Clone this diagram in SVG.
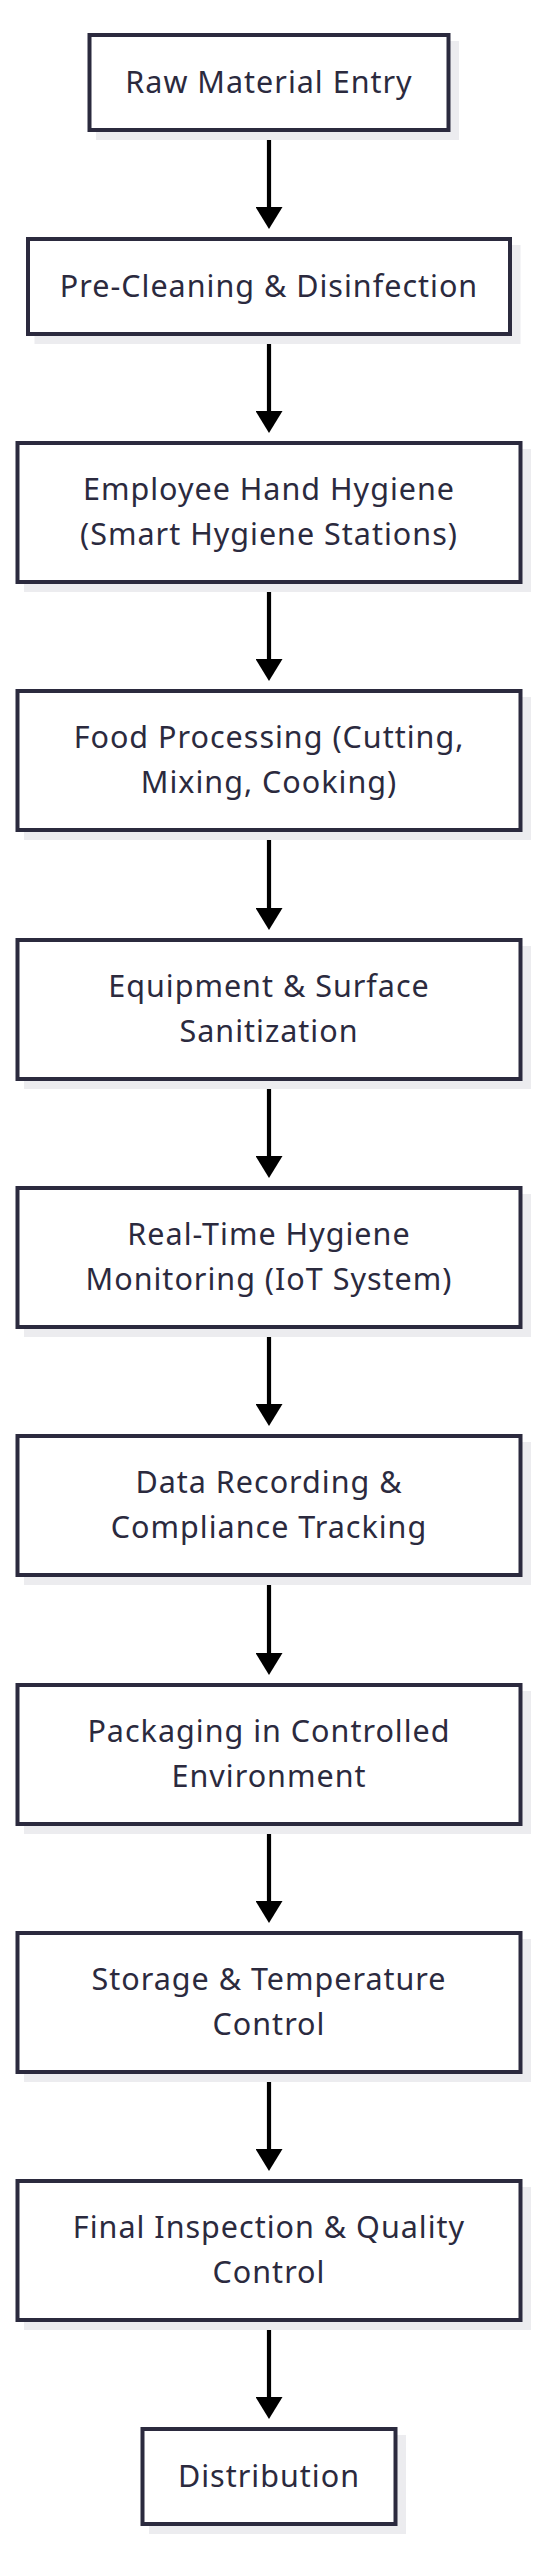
<svg xmlns="http://www.w3.org/2000/svg" width="538" height="2560" viewBox="0 0 538 2560">
<style>
.bg{fill:#ffffff}
.sh{fill:#ececef}
.bx{fill:#ffffff;stroke:#2b2a3e;stroke-width:4}
.t{font-family:"Noto Sans","Open Sans",sans-serif;font-size:30.5px;fill:#2b2a3e;text-anchor:middle;letter-spacing:1px}
.c{stroke:#000000;stroke-width:4.2;fill:none}
</style>
<defs>
<marker id="ah" markerUnits="userSpaceOnUse" viewBox="0 0 22 27" markerWidth="22" markerHeight="27" refX="1" refY="13.5" orient="auto">
<path d="M0,0 L22,13.5 L0,27 Z" fill="#000000"/>
</marker>
</defs>
<rect class="bg" x="0" y="0" width="538" height="2560"/>

<g id="connectors">
<line class="c" x1="269" y1="132" x2="269" y2="208" marker-end="url(#ah)"/>
<line class="c" x1="269" y1="336" x2="269" y2="412" marker-end="url(#ah)"/>
<line class="c" x1="269" y1="584" x2="269" y2="660" marker-end="url(#ah)"/>
<line class="c" x1="269" y1="832" x2="269" y2="909" marker-end="url(#ah)"/>
<line class="c" x1="269" y1="1081" x2="269" y2="1157" marker-end="url(#ah)"/>
<line class="c" x1="269" y1="1329" x2="269" y2="1405" marker-end="url(#ah)"/>
<line class="c" x1="269" y1="1577" x2="269" y2="1654" marker-end="url(#ah)"/>
<line class="c" x1="269" y1="1826" x2="269" y2="1902" marker-end="url(#ah)"/>
<line class="c" x1="269" y1="2074" x2="269" y2="2150" marker-end="url(#ah)"/>
<line class="c" x1="269" y1="2322" x2="269" y2="2398" marker-end="url(#ah)"/>
</g>

<g id="raw-material-entry">
<rect class="sh" x="96" y="41" width="363" height="99"/>
<rect class="bx" x="89.5" y="35" width="359" height="95"/>
<text class="t" x="269" y="92.5">Raw Material Entry</text>
</g>

<g id="pre-cleaning">
<rect class="sh" x="34.5" y="245" width="486" height="99"/>
<rect class="bx" x="28" y="239" width="482" height="95"/>
<text class="t" x="269" y="296.5">Pre-Cleaning &amp; Disinfection</text>
</g>

<g id="hand-hygiene">
<rect class="sh" x="24" y="449" width="507" height="143"/>
<rect class="bx" x="17.5" y="443" width="503" height="139"/>
<text class="t" x="269" y="500">Employee Hand Hygiene</text>
<text class="t" x="269" y="545">(Smart Hygiene Stations)</text>
</g>

<g id="food-processing">
<rect class="sh" x="24" y="697" width="507" height="143"/>
<rect class="bx" x="17.5" y="691" width="503" height="139"/>
<text class="t" x="269" y="748">Food Processing (Cutting,</text>
<text class="t" x="269" y="793">Mixing, Cooking)</text>
</g>

<g id="equipment-sanitization">
<rect class="sh" x="24" y="946" width="507" height="143"/>
<rect class="bx" x="17.5" y="940" width="503" height="139"/>
<text class="t" x="269" y="997">Equipment &amp; Surface</text>
<text class="t" x="269" y="1042">Sanitization</text>
</g>

<g id="realtime-monitoring">
<rect class="sh" x="24" y="1194" width="507" height="143"/>
<rect class="bx" x="17.5" y="1188" width="503" height="139"/>
<text class="t" x="269" y="1245">Real-Time Hygiene</text>
<text class="t" x="269" y="1290">Monitoring (IoT System)</text>
</g>

<g id="data-recording">
<rect class="sh" x="24" y="1442" width="507" height="143"/>
<rect class="bx" x="17.5" y="1436" width="503" height="139"/>
<text class="t" x="269" y="1493">Data Recording &amp;</text>
<text class="t" x="269" y="1538">Compliance Tracking</text>
</g>

<g id="packaging">
<rect class="sh" x="24" y="1691" width="507" height="143"/>
<rect class="bx" x="17.5" y="1685" width="503" height="139"/>
<text class="t" x="269" y="1742">Packaging in Controlled</text>
<text class="t" x="269" y="1787">Environment</text>
</g>

<g id="storage">
<rect class="sh" x="24" y="1939" width="507" height="143"/>
<rect class="bx" x="17.5" y="1933" width="503" height="139"/>
<text class="t" x="269" y="1990">Storage &amp; Temperature</text>
<text class="t" x="269" y="2035">Control</text>
</g>

<g id="final-inspection">
<rect class="sh" x="24" y="2187" width="507" height="143"/>
<rect class="bx" x="17.5" y="2181" width="503" height="139"/>
<text class="t" x="269" y="2238">Final Inspection &amp; Quality</text>
<text class="t" x="269" y="2283">Control</text>
</g>

<g id="distribution">
<rect class="sh" x="149" y="2435" width="257" height="99"/>
<rect class="bx" x="142.5" y="2429" width="253" height="95"/>
<text class="t" x="269" y="2486.5">Distribution</text>
</g>
</svg>
